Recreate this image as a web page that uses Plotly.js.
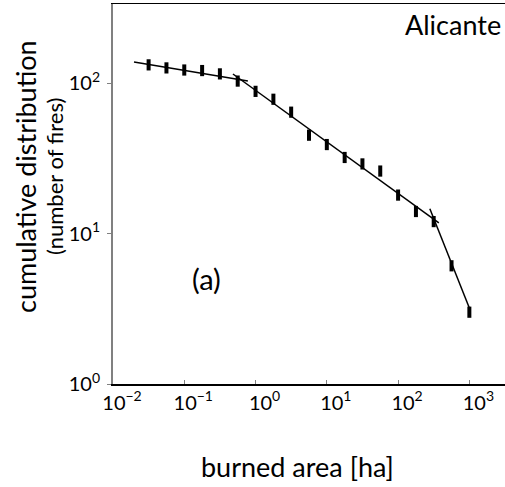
<!DOCTYPE html>
<html>
<head>
<meta charset="utf-8">
<script src="https://cdn.plot.ly/plotly-3.0.1.min.js"></script>
<style>html,body{margin:0;padding:0;background:#fff;}#chart{width:505px;height:487px;}</style>
</head>
<body>
<div id="chart"></div>
<script>
// burned area [ha] (bin positions) and cumulative number of fires
const areaHa = [0.0316, 0.0562, 0.1, 0.178, 0.316, 0.562, 1, 1.78, 3.16, 5.62, 10, 17.8, 31.6, 56.2, 100, 178, 316, 562, 1000];
const fires  = [132, 126, 122, 121, 115, 103, 88, 78, 64, 45, 39, 32, 29, 26, 18, 14, 12, 6.1, 3.0];

// fitted power-law segments
const fit1X = [0.0197, 0.78];  const fit1Y = [138, 103];
const fit2X = [0.482, 373];    const fit2Y = [114.8, 11.75];
const fit3X = [279, 1000];     const fit3Y = [14.6, 3.2];

// tick labels
const xTickVals = [0.01, 0.1, 1, 10, 100, 1000];
const xTickText = ['10<sup>−2</sup>', '10<sup>−1</sup>', '10<sup>0</sup>', '10<sup>1</sup>', '10<sup>2</sup>', '10<sup>3</sup>'];
const yTickVals = [1, 10, 100];
const yTickText = ['10<sup>0</sup>', '10<sup>1</sup>', '10<sup>2</sup>'];

const xTitle = 'burned area [ha]';
const yTitle = 'cumulative distribution';
const ySubTitle = '(number of fires)';
const regionLabel = 'Alicante';
const panelLabel = '(a)';

const FONT = 'Lato, "Noto Sans", sans-serif';
const lineStyle = {color: '#000', width: 1.5};

const traces = [
  {x: fit1X, y: fit1Y, mode: 'lines', line: lineStyle, hoverinfo: 'skip'},
  {x: fit2X, y: fit2Y, mode: 'lines', line: lineStyle, hoverinfo: 'skip'},
  {x: fit3X, y: fit3Y, mode: 'lines', line: lineStyle, hoverinfo: 'skip'},
  {x: areaHa, y: fires, mode: 'markers',
   marker: {symbol: 'line-ns', size: 8, color: '#000', line: {color: '#000', width: 4}}}
];

const layout = {
  width: 505, height: 487,
  margin: {l: 113, r: 0, t: 4, b: 103},
  showlegend: false,
  paper_bgcolor: '#fff', plot_bgcolor: '#fff',
  font: {family: FONT, color: '#000'},
  xaxis: {
    type: 'log', range: [-2, 3.5],
    tickmode: 'array', tickvals: xTickVals, ticktext: xTickText,
    showgrid: false, zeroline: false,
    showline: true, linecolor: '#000', linewidth: 1.5, mirror: true,
    ticks: 'inside', ticklen: 4, tickcolor: '#808080', tickwidth: 1,
    ticklabelshift: 9,
    tickfont: {family: FONT, size: 20, color: '#000'}
  },
  yaxis: {
    type: 'log', range: [0, 2.525],
    tickmode: 'array', tickvals: yTickVals, ticktext: yTickText,
    showgrid: false, zeroline: false,
    showline: true, linecolor: '#808080', linewidth: 2,
    ticks: 'outside', ticklen: 4, tickcolor: '#808080', tickwidth: 1,
    ticklabelstandoff: 3,
    tickfont: {family: FONT, size: 20, color: '#000'}
  },
  annotations: [
    {text: regionLabel, xref: 'paper', yref: 'paper', x: 0.995, y: 0.995, xanchor: 'right', yanchor: 'top',
     showarrow: false, font: {family: FONT, size: 27, color: '#000'}},
    {text: panelLabel, xref: 'paper', yref: 'paper', x: (206-113)/392, y: (384-278)/380, xanchor: 'center', yanchor: 'middle',
     showarrow: false, font: {family: FONT, size: 29, color: '#000'}},
    {text: xTitle, xref: 'paper', yref: 'paper', x: (297-113)/392, y: -(466-384)/380, xanchor: 'center', yanchor: 'middle',
     showarrow: false, font: {family: FONT, size: 27, color: '#000'}},
    {text: yTitle, xref: 'paper', yref: 'paper', x: -(113-25)/392, y: (384-177)/380, xanchor: 'center', yanchor: 'middle',
     textangle: -90, showarrow: false, font: {family: FONT, size: 27, color: '#000'}},
    {text: ySubTitle, xref: 'paper', yref: 'paper', x: -(113-54)/392, y: (384-177)/380, xanchor: 'center', yanchor: 'middle',
     textangle: -90, showarrow: false, font: {family: FONT, size: 22, color: '#000'}}
  ]
};

Plotly.newPlot('chart', traces, layout, {displayModeBar: false, staticPlot: true});
</script>
</body>
</html>
